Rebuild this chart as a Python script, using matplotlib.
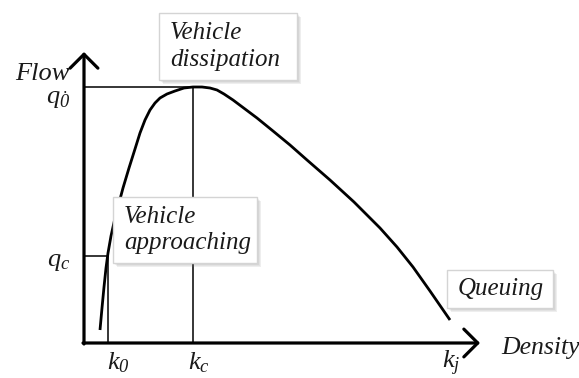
import matplotlib.pyplot as plt
from matplotlib.patches import FancyArrowPatch, Rectangle

plt.rcParams['font.family'] = 'Liberation Serif'
plt.rcParams['mathtext.fontset'] = 'custom'
plt.rcParams['mathtext.it'] = 'Liberation Serif:italic'
plt.rcParams['mathtext.rm'] = 'Liberation Serif:italic'

# flow-density curve (arbitrary units)
density = [16, 18, 20, 22, 24, 27, 31, 35, 39, 45, 51, 56, 61, 66, 71, 76,
           83, 91, 100, 109, 118, 126, 133, 140, 149, 161, 173, 189, 206,
           223, 246, 270, 296, 313, 329, 346, 366]
flow = [13, 35, 56, 75, 90, 107, 125, 140, 155, 175, 194, 210, 223, 233,
        240, 245, 249, 252, 255, 256, 256, 255, 253, 249, 243, 234, 225,
        212, 198, 183, 163, 141, 115, 96, 76, 52, 23]

k0, kc, kj = 24, 109, 368
q0, qc = 256, 87
k_labels = [r'$k_{\mathit{0}}$', r'$k_c$', r'$k_j$']
q_labels = [r'$q_{\dot{\mathit{0}}}$', r'$q_c$']
boxes = ['Vehicle\ndissipation', 'Vehicle\napproaching', 'Queuing']

fig = plt.figure(figsize=(5.79, 3.78), dpi=100)
ax = fig.add_axes([0, 0, 1, 1])
ax.set_xlim(-84, 495)
ax.set_ylim(-35, 343)
ax.axis('off')

# reference lines
ax.plot([0, kc], [q0, q0], color='black', lw=1.1)
ax.plot([kc, kc], [0, q0], color='black', lw=1.1)
ax.plot([0, k0], [qc, qc], color='black', lw=1.1)
ax.plot([k0, k0], [0, qc], color='black', lw=1.1)

ax.plot(density, flow, color='black', lw=2.0, solid_capstyle='butt',
        solid_joinstyle='round')

# axes arrows
style = '->,head_length=0.5,head_width=0.5'
ax.add_patch(FancyArrowPatch((0, -1), (0, 291), arrowstyle=style,
                             mutation_scale=20, lw=2.3, color='black',
                             shrinkA=0, shrinkB=0))
ax.add_patch(FancyArrowPatch((-1, 0), (396, 0), arrowstyle=style,
                             mutation_scale=20, lw=2.3, color='black',
                             shrinkA=0, shrinkB=0))

fs = 19
tc = '#1a1a1a'
ax.text(-14, 263, 'Flow', fontsize=fs, style='italic', ha='right',
        va='baseline', color=tc)
ax.text(-14, 243, q_labels[0], fontsize=fs, ha='right', va='center', color=tc)
ax.text(-14, 81, q_labels[1], fontsize=fs, ha='right', va='center', color=tc)
ax.text(417, -5, 'Density', fontsize=18.5, style='italic', ha='left',
        va='center', color=tc)
for k, lab in zip([k0 + 10, kc + 6, kj - 1], k_labels):
    ax.text(k, -20, lab, fontsize=fs, ha='center', va='center', color=tc)

# annotation boxes with soft shadow
box_pos = [(75, 263, 138, 67), (29, 80, 144, 66), (363, 35, 106, 38)]
for (x, y, w, h), txt in zip(box_pos, boxes):
    for i, a in enumerate([0.10, 0.10, 0.12]):
        ax.add_patch(Rectangle((x + 1.5 + i, y - 1.5 - i), w, h,
                               facecolor='#777777', edgecolor='none',
                               alpha=a, zorder=3))
    ax.add_patch(Rectangle((x, y), w, h, facecolor='white',
                           edgecolor='#d4d4d4', lw=1.0, zorder=4))
    ax.text(x + 11, y + h / 2, txt, fontsize=18, style='italic',
            ha='left', va='center', linespacing=1.25, zorder=5, color=tc)

fig.savefig('out.png', dpi=100)
